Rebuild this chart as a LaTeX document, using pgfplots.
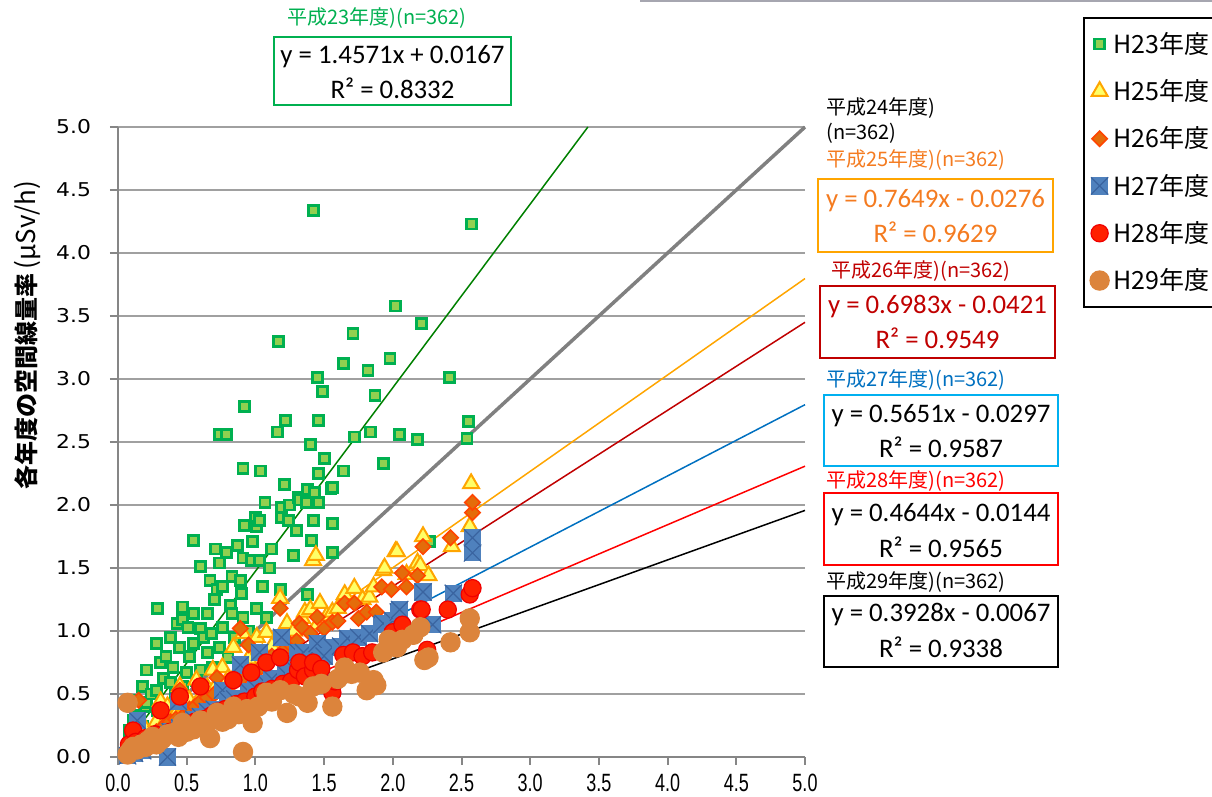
\documentclass[border=0pt]{standalone}
\usepackage{pgfplots}
\pgfplotsset{compat=1.18}
\usepackage{pgfplotstable}
\usepackage{fontspec}
\setmainfont{Carlito}
\newfontfamily\jp{Noto Sans CJK JP}
\newfontfamily\ytf{DejaVu Sans}
\newfontfamily\xtf{Liberation Sans}
\definecolor{gridgray}{HTML}{A0A0A0}
\definecolor{axgray}{HTML}{868686}
\definecolor{g23}{HTML}{00B050}
\definecolor{g23f}{HTML}{92D050}
\definecolor{o25}{HTML}{FFA500}
\definecolor{y25}{HTML}{FFFF66}
\definecolor{o26}{HTML}{FF4500}
\definecolor{o26f}{HTML}{E46C0A}
\definecolor{b27}{HTML}{4F81BD}
\definecolor{b27x}{HTML}{3A64A0}
\definecolor{r28}{HTML}{FF2000}
\definecolor{r28d}{HTML}{F00000}
\definecolor{c29}{HTML}{DC843C}
\definecolor{ltxt}{HTML}{F47B20}
\definecolor{dred}{HTML}{C00000}
\definecolor{bluet}{HTML}{0070C0}
\definecolor{bluebox}{HTML}{00B0F0}
\definecolor{lgreen}{HTML}{008000}
\definecolor{topline}{HTML}{A6A6B0}

\pgfdeclareplotmark{sqx}{%
  \pgfpathrectangle{\pgfqpoint{-\pgfplotmarksize}{-\pgfplotmarksize}}{\pgfqpoint{2\pgfplotmarksize}{2\pgfplotmarksize}}%
  \pgfsetfillcolor{b27}\pgfusepath{fill}%
  \pgfsetstrokecolor{b27x}\pgfsetlinewidth{0.6pt}%
  \pgfpathmoveto{\pgfqpoint{-\pgfplotmarksize}{-\pgfplotmarksize}}%
  \pgfpathlineto{\pgfqpoint{\pgfplotmarksize}{\pgfplotmarksize}}%
  \pgfpathmoveto{\pgfqpoint{-\pgfplotmarksize}{\pgfplotmarksize}}%
  \pgfpathlineto{\pgfqpoint{\pgfplotmarksize}{-\pgfplotmarksize}}%
  \pgfusepath{stroke}}

\pgfplotstableread{
x y
0.08 0.11
0.08 0.21
0.10 0.15
0.11 0.29
0.12 0.45
0.14 0.33
0.15 0.22
0.18 0.24
0.18 0.56
0.20 0.40
0.21 0.43
0.21 0.69
0.24 0.50
0.28 0.53
0.28 0.90
0.29 0.37
0.29 1.18
0.31 0.75
0.33 0.62
0.35 0.80
0.38 0.59
0.38 0.95
0.40 0.71
0.42 0.50
0.43 1.06
0.45 0.87
0.47 0.56
0.47 1.09
0.47 1.19
0.50 0.67
0.51 1.03
0.52 0.80
0.55 0.90
0.55 1.14
0.55 1.72
0.57 0.61
0.60 0.69
0.60 1.02
0.60 1.51
0.62 0.95
0.65 0.83
0.65 1.14
0.67 1.40
0.68 0.98
0.69 0.71
0.70 1.25
0.71 1.65
0.72 1.33
0.74 0.87
0.74 1.54
0.74 2.56
0.76 1.03
0.76 1.35
0.79 1.62
0.79 2.56
0.80 0.79
0.82 1.20
0.83 1.14
0.83 1.43
0.85 0.95
0.87 1.68
0.89 1.40
0.90 1.30
0.91 1.11
0.91 1.58
0.91 2.29
0.92 2.78
0.92 1.84
0.95 1.00
0.97 1.56
0.98 1.71
1.00 1.90
1.01 1.18
1.01 1.83
1.03 1.56
1.03 1.88
1.04 2.27
1.05 1.35
1.07 2.02
1.08 1.11
1.10 1.50
1.12 1.65
1.16 2.58
1.17 3.30
1.18 1.33
1.19 1.90
1.19 1.98
1.21 2.16
1.22 2.67
1.24 1.88
1.25 2.00
1.28 1.60
1.30 1.80
1.31 2.06
1.32 2.04
1.37 2.02
1.38 1.29
1.38 2.12
1.40 2.48
1.41 1.72
1.42 1.88
1.42 4.34
1.43 2.10
1.45 3.01
1.46 2.02
1.46 2.25
1.46 2.67
1.49 2.90
1.50 2.37
1.55 2.13
1.56 1.62
1.56 1.85
1.56 2.14
1.64 2.27
1.64 3.12
1.71 3.36
1.72 2.54
1.82 3.07
1.84 2.58
1.87 2.87
1.93 2.33
1.98 3.16
2.02 3.58
2.05 2.56
2.18 2.52
2.21 3.44
2.27 1.71
2.41 3.01
2.54 2.53
2.55 2.66
2.57 4.23
}\hTwentyThree

\pgfplotstableread{
x y
0.08 0.04
0.10 0.08
0.12 0.12
0.15 0.10
0.18 0.16
0.20 0.22
0.22 0.14
0.25 0.20
0.28 0.28
0.31 0.44
0.32 0.24
0.36 0.40
0.38 0.30
0.42 0.34
0.45 0.56
0.48 0.40
0.52 0.45
0.57 0.61
0.60 0.48
0.65 0.55
0.69 0.69
0.72 0.58
0.76 0.71
0.80 0.62
0.84 0.87
0.88 0.70
0.91 0.98
0.95 0.78
1.01 0.95
1.05 0.82
1.08 0.99
1.12 0.88
1.18 1.26
1.20 0.92
1.23 1.06
1.28 1.00
1.34 1.10
1.36 1.15
1.40 1.17
1.42 1.56
1.44 1.60
1.45 1.05
1.47 1.22
1.52 1.12
1.56 1.15
1.60 1.18
1.65 1.29
1.72 1.34
1.78 1.25
1.83 1.27
1.86 1.35
1.93 1.48
1.94 1.50
2.02 1.63
2.03 1.63
2.10 1.45
2.18 1.54
2.20 1.52
2.22 1.75
2.26 1.44
2.43 1.67
2.56 1.83
2.57 2.17
}\hTwentyFive

\pgfplotstableread{
x y
0.07 0.02
0.10 0.06
0.13 0.08
0.15 0.45
0.17 0.10
0.20 0.12
0.24 0.17
0.28 0.20
0.30 0.15
0.34 0.25
0.38 0.28
0.42 0.30
0.45 0.53
0.48 0.33
0.52 0.38
0.56 0.40
0.60 0.44
0.65 0.47
0.70 0.50
0.72 0.63
0.76 0.53
0.80 0.56
0.85 0.60
0.89 1.02
0.90 0.62
0.95 0.89
0.98 0.66
1.03 0.70
1.08 0.76
1.12 0.80
1.18 1.18
1.20 0.84
1.25 0.90
1.30 0.92
1.32 1.06
1.34 1.03
1.40 0.98
1.45 1.11
1.50 1.02
1.56 1.07
1.60 1.08
1.65 1.22
1.72 1.22
1.75 1.10
1.81 1.15
1.88 1.15
1.92 1.35
1.99 1.33
2.07 1.46
2.10 1.35
2.18 1.44
2.22 1.67
2.42 1.74
2.58 1.94
2.58 2.02
}\hTwentySix

\pgfplotstableread{
x y
0.07 0.01
0.10 0.05
0.12 0.03
0.14 0.29
0.15 0.08
0.18 0.05
0.20 0.10
0.24 0.13
0.28 0.12
0.32 0.18
0.36 0.00
0.38 0.20
0.44 0.44
0.45 0.23
0.50 0.26
0.55 0.30
0.60 0.32
0.65 0.36
0.70 0.38
0.76 0.53
0.80 0.45
0.85 0.46
0.89 0.73
0.95 0.52
1.00 0.55
1.03 0.83
1.08 0.58
1.12 0.62
1.19 0.95
1.22 0.66
1.28 0.70
1.31 0.83
1.35 0.83
1.40 0.76
1.45 0.87
1.45 0.90
1.50 0.80
1.56 0.61
1.56 0.87
1.62 0.88
1.67 0.94
1.75 0.95
1.83 0.98
1.92 1.05
1.93 1.06
2.00 1.08
2.04 1.15
2.05 1.17
2.22 1.31
2.29 1.05
2.44 1.30
2.58 1.62
2.58 1.74
}\hTwentySeven

\pgfplotstableread{
x y
0.07 0.03
0.08 0.10
0.10 0.06
0.11 0.21
0.13 0.12
0.15 0.08
0.18 0.10
0.20 0.15
0.24 0.12
0.27 0.18
0.31 0.37
0.33 0.15
0.38 0.20
0.42 0.18
0.45 0.48
0.48 0.22
0.52 0.25
0.56 0.28
0.60 0.56
0.62 0.30
0.68 0.33
0.72 0.36
0.78 0.38
0.84 0.61
0.86 0.42
0.92 0.44
0.97 0.67
1.00 0.48
1.05 0.52
1.08 0.75
1.12 0.54
1.18 0.79
1.20 0.58
1.26 0.60
1.31 0.69
1.32 0.75
1.36 0.64
1.42 0.69
1.42 0.75
1.48 0.70
1.56 0.51
1.58 0.60
1.64 0.81
1.71 0.83
1.78 0.80
1.85 0.83
2.00 0.99
2.07 1.05
2.20 1.17
2.21 1.17
2.25 0.85
2.40 1.17
2.56 1.29
2.58 1.34
}\hTwentyEight

\pgfplotstableread{
x y
0.07 0.02
0.07 0.43
0.09 0.05
0.11 0.08
0.14 0.06
0.17 0.10
0.20 0.08
0.22 0.13
0.25 0.16
0.28 0.10
0.32 0.14
0.36 0.18
0.40 0.19
0.44 0.16
0.47 0.27
0.50 0.20
0.55 0.22
0.60 0.29
0.64 0.25
0.67 0.15
0.72 0.35
0.76 0.28
0.80 0.30
0.84 0.40
0.88 0.34
0.91 0.04
0.94 0.38
0.98 0.27
1.02 0.40
1.08 0.51
1.12 0.44
1.18 0.53
1.23 0.35
1.28 0.50
1.32 0.48
1.38 0.43
1.42 0.56
1.48 0.58
1.56 0.40
1.60 0.62
1.65 0.71
1.70 0.66
1.76 0.67
1.81 0.53
1.86 0.61
1.88 0.57
1.93 0.83
1.97 0.93
2.03 0.87
2.07 0.93
2.15 0.97
2.20 1.03
2.23 0.77
2.26 0.79
2.42 0.91
2.56 0.99
2.56 1.10
}\hTwentyNine

\begin{document}
\begin{tikzpicture}
\path[use as bounding box] (0pt,0pt) rectangle (606pt,398.5pt);
\draw[topline, line width=1pt] (320pt,398pt) -- (606pt,398pt);
\begin{axis}[
  at={(59pt,20pt)}, anchor=south west,
  scale only axis, width=343.5pt, height=315pt,
  xmin=0, xmax=5, ymin=0, ymax=5,
  axis lines=left,
  axis line style={-, draw=axgray, line width=1pt},
  xtick={0,0.5,1,1.5,2,2.5,3,3.5,4,4.5,5},
  ytick={0,0.5,1,1.5,2,2.5,3,3.5,4,4.5,5},
  tick align=outside, major tick length=4pt,
  tick style={draw=axgray, line width=1pt},
  ymajorgrids, grid style={draw=gridgray, line width=1pt},
  /pgf/number format/.cd, fixed, fixed zerofill, precision=1, assume math mode=true,
  /pgfplots/.cd,
  xticklabel={\scalebox{0.72}[1]{\pgfmathprintnumber{\tick}}},
  yticklabel={\scalebox{1.15}[1]{\pgfmathprintnumber{\tick}}},
  xticklabel style={font=\xtf\fontsize{12.5}{14}\selectfont, text=black, yshift=-1pt},
  yticklabel style={font=\ytf\fontsize{9.5}{11}\selectfont, text=black, xshift=-6pt},
  clip=false,
  legend style={at={(1.4047,1.1746)}, anchor=north west, draw=black, line width=1pt,
    font=\jp\fontsize{12.5}{14}\selectfont, row sep=7.6pt, inner xsep=3pt, inner ysep=5pt},
  legend cell align=left,
  legend image post style={line width=0.8pt},
]
\addplot[only marks, mark=square*, mark size=2.5pt, mark options={draw=g23, fill=g23f, line width=1.4pt}] table {\hTwentyThree};
\addlegendentry{H23年度}
\addplot[only marks, mark=triangle*, mark size=4.6pt, mark options={draw=o25, fill=y25, line width=1pt}] table {\hTwentyFive};
\addlegendentry{H25年度}
\addplot[only marks, mark=square*, mark size=2.7pt, mark options={draw=o26, fill=o26f, line width=0.8pt, rotate=45}] table {\hTwentySix};
\addlegendentry{H26年度}
\addplot[only marks, mark=sqx, mark size=4.3pt] table {\hTwentySeven};
\addlegendentry{H27年度}
\addplot[only marks, mark=*, mark size=4.3pt, mark options={draw=r28d, fill=r28, line width=0.6pt}] table {\hTwentyEight};
\addlegendentry{H28年度}
\addplot[only marks, mark=*, mark size=4.8pt, mark options={draw=c29, fill=c29, line width=0.6pt}] table {\hTwentyNine};
\addlegendentry{H29年度}
% trend lines
\addplot[forget plot, lgreen, line width=0.75pt] coordinates {(0.07,0.119) (3.420,5.0)};
\addplot[forget plot, gray, line width=1.75pt] coordinates {(0.07,0.07) (5,5)};
\addplot[forget plot, o25, line width=0.75pt] coordinates {(0.07,0.0259) (5,3.797)};
\addplot[forget plot, dred, line width=0.75pt] coordinates {(0.07,0.0068) (5,3.450)};
\addplot[forget plot, bluet, line width=0.75pt] coordinates {(0.07,0.0099) (5,2.796)};
\addplot[forget plot, red, line width=0.75pt] coordinates {(0.07,0.0181) (5,2.308)};
\addplot[forget plot, black, line width=0.75pt] coordinates {(0.07,0.0208) (5,1.957)};
\end{axis}
\begin{scope}[x=0.5pt,y=0.5pt]
% y label
\node[rotate=90, anchor=west, inner sep=0pt] at (27,307) {{\jp\bfseries\fontsize{12}{14}\selectfont 各年度の空間線量率}{\jp\fontsize{13}{15}\selectfont\,(μSv/h)}};
% titles
\begin{scope}[font=\jp\fontsize{10}{12}\selectfont]
\node[anchor=west, inner sep=0pt, text=g23] at (287,779) {平成23年度)(n=362)};
\node[anchor=west, inner sep=0pt, text=black] at (826,689) {平成24年度)};
\node[anchor=west, inner sep=0pt, text=black] at (826,664) {(n=362)};
\node[anchor=west, inner sep=0pt, text=ltxt] at (826,637) {平成25年度)(n=362)};
\node[anchor=west, inner sep=0pt, text=dred] at (831,526) {平成26年度)(n=362)};
\node[anchor=west, inner sep=0pt, text=bluet] at (826,417) {平成27年度)(n=362)};
\node[anchor=west, inner sep=0pt, text=red] at (826,316) {平成28年度)(n=362)};
\node[anchor=west, inner sep=0pt, text=black] at (826,215) {平成29年度)(n=362)};
\end{scope}
% boxes
\begin{scope}[font=\fontsize{13.4}{16}\selectfont]
\draw[g23, line width=1pt] (274,760) rectangle (511,692);
\node at (392.5,740) {y = 1.4571x + 0.0167};
\node at (392.5,709) {R² = 0.8332};
\draw[o25, line width=1pt] (818,618) rectangle (1053,545);
\node[text=ltxt] at (935.5,596) {y = 0.7649x - 0.0276};
\node[text=ltxt] at (935.5,565) {R² = 0.9629};
\draw[dred, line width=1pt] (820,511) rectangle (1055,439);
\node[text=dred] at (937.5,490) {y = 0.6983x - 0.0421};
\node[text=dred] at (937.5,459) {R² = 0.9549};
\draw[bluebox, line width=1pt] (824,402) rectangle (1058,331);
\node at (941,381) {y = 0.5651x - 0.0297};
\node at (941,350) {R² = 0.9587};
\draw[red, line width=1pt] (824,304) rectangle (1058,232);
\node at (941,282) {y = 0.4644x - 0.0144};
\node at (941,250) {R² = 0.9565};
\draw[black, line width=1pt] (824,201) rectangle (1058,130);
\node at (941,182) {y = 0.3928x - 0.0067};
\node at (941,150) {R² = 0.9338};
\end{scope}
\end{scope}
\end{tikzpicture}
\end{document}
